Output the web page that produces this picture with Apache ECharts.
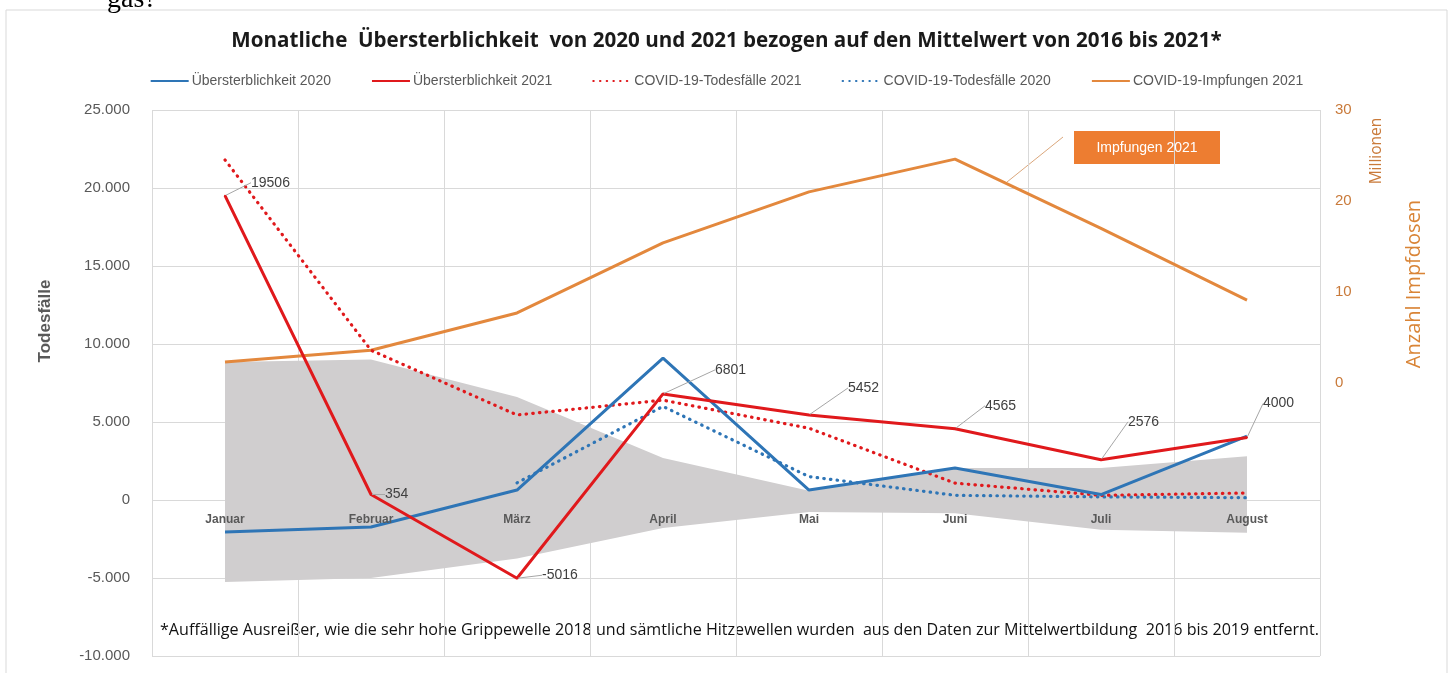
<!DOCTYPE html>
<html>
<head>
<meta charset="utf-8">
<script src="https://cdn.jsdelivr.net/npm/echarts@6/dist/echarts.min.js"></script>
<style>
html,body{margin:0;padding:0;background:#fff;}
#chart{width:1453px;height:673px;}
</style>
</head>
<body>
<div id="chart"></div>
<script>
// ---- data ----
const months = ['Januar','Februar','März','April','Mai','Juni','Juli','August'];
const excess2020 = [-2050, -1730, 640, 9100, 640, 2050, 350, 4100];
const excess2021 = [19506, 354, -5016, 6801, 5452, 4565, 2576, 4000];
const covidDeaths2021 = [21800, 9600, 5450, 6400, 4600, 1080, 300, 450];
const covidDeaths2020 = [null, null, 1100, 6000, 1500, 300, 200, 150];
const vaccinations2021 = [2.3, 3.6, 7.7, 15.4, 21.0, 24.6, 17.0, 9.1]; // Millionen
const bandLower = [-5250, -5000, -3750, -1800, -770, -850, -1900, -2100];
const bandUpper = [8850, 9000, 6600, 2700, 600, 2050, 2050, 2800];
const leftTicks = {min: -10000, max: 25000, interval: 5000};
const rightTicks = {min: -30, max: 30, interval: 10};

const bandSpan = bandUpper.map((v, i) => v - bandLower[i]);
// label offsets (style only)
const labelShift = [[22,-13],[10,0],[21,-3],[48,-24],[35,-27],[26,-23],[23,-38],[12,-34]];

const fmt = v => {
  const s = Math.abs(v).toString().replace(/\B(?=(\d{3})+(?!\d))/g, '.');
  return (v < 0 ? '-' : '') + s;
};

const FONT = '"Liberation Sans", Arial, sans-serif';
const OPEN = '"Open Sans", "Liberation Sans", sans-serif';
const DOTS = [0.5, 6.2];
const chart = echarts.init(document.getElementById('chart'), null, {renderer: 'canvas'});
chart.setOption({
  animation: false,
  backgroundColor: '#fff',
  title: {
    text: 'Monatliche  Übersterblichkeit  von 2020 und 2021 bezogen auf den Mittelwert von 2016 bis 2021*',
    left: 'center', top: 26,
    textStyle: {fontFamily: OPEN, fontSize: 20.6, fontWeight: 'bold', color: '#1a1a1a'}
  },
  legend: {
    top: 69, left: 'center',
    itemWidth: 38, itemHeight: 10, itemGap: 40,
    itemStyle: {opacity: 0},
    textStyle: {fontFamily: FONT, fontSize: 14, color: '#595959', padding: [0,0,0,-2]},
    data: ['Übersterblichkeit 2020','Übersterblichkeit 2021','COVID-19-Todesfälle 2021','COVID-19-Todesfälle 2020','COVID-19-Impfungen 2021']
  },
  grid: {left: 152, width: 1168, top: 110, height: 546},
  xAxis: [{
    type: 'category', data: months, boundaryGap: true,
    position: 'bottom', offset: -156, z: 20,
    axisLine: {show: false, onZero: false},
    axisTick: {show: false},
    axisLabel: {fontFamily: FONT, fontSize: 12, fontWeight: 'bold', color: '#595959', margin: 14},
    splitLine: {show: false}
  }, {
    type: 'category', data: months, boundaryGap: true,
    position: 'top',
    axisLine: {show: false, onZero: false},
    axisTick: {show: false},
    axisLabel: {show: false},
    splitLine: {show: true, lineStyle: {color: '#d9d9d9'}}
  }],
  yAxis: [{
    type: 'value', min: leftTicks.min, max: leftTicks.max, interval: leftTicks.interval,
    axisLine: {show: false}, axisTick: {show: false},
    axisLabel: {fontFamily: FONT, fontSize: 15, color: '#595959', margin: 22, formatter: fmt},
    splitLine: {lineStyle: {color: '#d9d9d9'}}
  }, {
    type: 'value', min: rightTicks.min, max: rightTicks.max, interval: rightTicks.interval,
    position: 'right',
    axisLine: {show: false}, axisTick: {show: false},
    axisLabel: {fontFamily: FONT, fontSize: 15, color: '#c97a3a', margin: 15,
      formatter: v => v >= 0 ? String(v) : ''},
    splitLine: {show: false}
  }],
  series: [
    {
      name: 'bandLower', type: 'line', data: bandLower, stack: 'band', stackStrategy: 'all',
      symbol: 'none', lineStyle: {opacity: 0}, silent: true, z: 1
    },
    {
      name: 'band', type: 'line', data: bandSpan, stack: 'band', stackStrategy: 'all',
      symbol: 'none', lineStyle: {opacity: 0}, areaStyle: {color: '#d0cecf', opacity: 1}, silent: true, z: 1
    },
    {
      name: 'COVID-19-Impfungen 2021', type: 'line', yAxisIndex: 1, data: vaccinations2021,
      symbol: 'none', color: '#e3883d', lineStyle: {width: 3, color: '#e3883d'}, z: 3
    },
    {
      name: 'COVID-19-Todesfälle 2020', type: 'line', data: covidDeaths2020,
      symbol: 'none', color: '#2e75b6', lineStyle: {width: 3.2, type: DOTS, cap: 'round', color: '#2e75b6'}, z: 4
    },
    {
      name: 'COVID-19-Todesfälle 2021', type: 'line', data: covidDeaths2021,
      symbol: 'none', color: '#e0191c', lineStyle: {width: 3.2, type: DOTS, cap: 'round', color: '#e0191c'}, z: 4
    },
    {
      name: 'Übersterblichkeit 2020', type: 'line', data: excess2020,
      symbol: 'none', color: '#2e75b6', lineStyle: {width: 3, color: '#2e75b6'}, z: 5
    },
    {
      name: 'Übersterblichkeit 2021', type: 'line', data: excess2021,
      symbol: 'circle', symbolSize: 2, showSymbol: true, color: '#e0191c',
      itemStyle: {color: '#e0191c'},
      lineStyle: {width: 3, color: '#e0191c'}, z: 6,
      label: {show: true, position: 'right', distance: 3, fontFamily: FONT, fontSize: 14, color: '#404040'},
      labelLine: {show: true, lineStyle: {color: '#a6a6a6', width: 1}},
      labelLayout: p => ({dx: labelShift[p.dataIndex][0], dy: labelShift[p.dataIndex][1]})
    }
  ],
  graphic: [
    {type: 'rect', shape: {x: 6, y: 10, width: 1441, height: 700}, style: {fill: 'none', stroke: '#d9d9d9', lineWidth: 1}, z: -1},
    {type: 'text', left: 107, top: -14, style: {text: 'gas?', font: '28px "Liberation Serif", serif', fill: '#000'}},
    {type: 'text', x: 45, y: 321, rotation: Math.PI / 2,
      style: {text: 'Todesfälle', font: 'bold 17px ' + FONT, fill: '#595959', align: 'center', verticalAlign: 'middle'}},
    {type: 'text', x: 1377, y: 151, rotation: Math.PI / 2,
      style: {text: 'Millionen', font: '15.5px ' + OPEN, fill: '#c97a3a', align: 'center', verticalAlign: 'middle'}},
    {type: 'text', x: 1414, y: 284, rotation: Math.PI / 2,
      style: {text: 'Anzahl Impfdosen', font: '20px ' + OPEN, fill: '#d98436', align: 'center', verticalAlign: 'middle'}},
    {type: 'line', shape: {x1: 1063, y1: 137, x2: 1007, y2: 182}, style: {stroke: '#dba77c', lineWidth: 1}},
    {type: 'rect', shape: {x: 1074, y: 131, width: 146, height: 33}, style: {fill: '#ed7d31'}},
    {type: 'text', x: 1147, y: 148, style: {text: 'Impfungen 2021', font: '14px ' + FONT, fill: '#fff', align: 'center', verticalAlign: 'middle'}},
    {type: 'text', x: 160, y: 630, style: {text: '*Auffällige Ausreißer, wie die sehr hohe Grippewelle 2018 und sämtliche Hitzewellen wurden  aus den Daten zur Mittelwertbildung  2016 bis 2019 entfernt.', font: '16.1px ' + OPEN, fill: '#111', verticalAlign: 'middle'}}
  ]
});
</script>
</body>
</html>
